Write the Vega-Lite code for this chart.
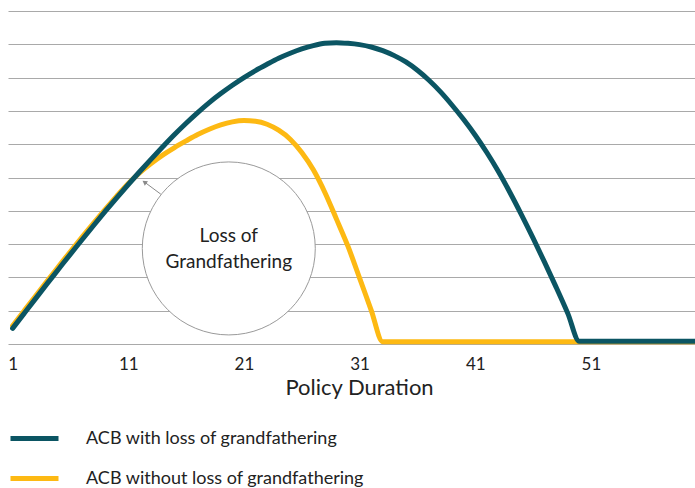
{
  "$schema": "https://vega.github.io/schema/vega-lite/v6.json",
  "width": 687,
  "height": 333,
  "autosize": {"type": "none"},
  "padding": {"left": 8, "top": 11, "right": 0, "bottom": 144},
  "background": "white",
  "config": {
    "view": {"stroke": null},
    "font": "Lato",
    "axisY": {"labels": false, "domain": false, "ticks": false, "title": null, "grid": true, "gridColor": "#a9a9a9", "gridWidth": 1.2, "tickCount": 12, "values": [0,1,2,3,4,5,6,7,8,9,10]}
  },
  "datasets": {
    "acb": [
      {"d":1,"ACB with loss of grandfathering":0.47,"ACB without loss of grandfathering":0.55},
      {"d":2,"ACB with loss of grandfathering":0.92,"ACB without loss of grandfathering":1.0},
      {"d":3,"ACB with loss of grandfathering":1.37,"ACB without loss of grandfathering":1.45},
      {"d":4,"ACB with loss of grandfathering":1.82,"ACB without loss of grandfathering":1.9},
      {"d":5,"ACB with loss of grandfathering":2.26,"ACB without loss of grandfathering":2.34},
      {"d":6,"ACB with loss of grandfathering":2.7,"ACB without loss of grandfathering":2.78},
      {"d":7,"ACB with loss of grandfathering":3.13,"ACB without loss of grandfathering":3.21},
      {"d":8,"ACB with loss of grandfathering":3.56,"ACB without loss of grandfathering":3.63},
      {"d":9,"ACB with loss of grandfathering":3.98,"ACB without loss of grandfathering":4.04},
      {"d":10,"ACB with loss of grandfathering":4.39,"ACB without loss of grandfathering":4.44},
      {"d":11,"ACB with loss of grandfathering":4.79,"ACB without loss of grandfathering":4.82},
      {"d":12,"ACB with loss of grandfathering":5.18,"ACB without loss of grandfathering":5.15},
      {"d":13,"ACB with loss of grandfathering":5.56,"ACB without loss of grandfathering":5.43},
      {"d":14,"ACB with loss of grandfathering":5.93,"ACB without loss of grandfathering":5.68},
      {"d":15,"ACB with loss of grandfathering":6.29,"ACB without loss of grandfathering":5.9},
      {"d":16,"ACB with loss of grandfathering":6.63,"ACB without loss of grandfathering":6.1},
      {"d":17,"ACB with loss of grandfathering":6.95,"ACB without loss of grandfathering":6.29},
      {"d":18,"ACB with loss of grandfathering":7.25,"ACB without loss of grandfathering":6.45},
      {"d":19,"ACB with loss of grandfathering":7.52,"ACB without loss of grandfathering":6.58},
      {"d":20,"ACB with loss of grandfathering":7.77,"ACB without loss of grandfathering":6.67},
      {"d":21,"ACB with loss of grandfathering":8.0,"ACB without loss of grandfathering":6.71},
      {"d":22,"ACB with loss of grandfathering":8.21,"ACB without loss of grandfathering":6.69},
      {"d":23,"ACB with loss of grandfathering":8.4,"ACB without loss of grandfathering":6.6},
      {"d":24,"ACB with loss of grandfathering":8.58,"ACB without loss of grandfathering":6.42},
      {"d":25,"ACB with loss of grandfathering":8.73,"ACB without loss of grandfathering":6.15},
      {"d":26,"ACB with loss of grandfathering":8.86,"ACB without loss of grandfathering":5.75},
      {"d":27,"ACB with loss of grandfathering":8.96,"ACB without loss of grandfathering":5.23},
      {"d":28,"ACB with loss of grandfathering":9.03,"ACB without loss of grandfathering":4.55},
      {"d":29,"ACB with loss of grandfathering":9.05,"ACB without loss of grandfathering":3.75},
      {"d":30,"ACB with loss of grandfathering":9.03,"ACB without loss of grandfathering":2.93},
      {"d":31,"ACB with loss of grandfathering":8.99,"ACB without loss of grandfathering":1.98},
      {"d":32,"ACB with loss of grandfathering":8.92,"ACB without loss of grandfathering":1.02},
      {"d":33,"ACB with loss of grandfathering":8.81,"ACB without loss of grandfathering":0.07},
      {"d":34,"ACB with loss of grandfathering":8.66,"ACB without loss of grandfathering":0.07},
      {"d":35,"ACB with loss of grandfathering":8.47,"ACB without loss of grandfathering":0.07},
      {"d":36,"ACB with loss of grandfathering":8.22,"ACB without loss of grandfathering":0.07},
      {"d":37,"ACB with loss of grandfathering":7.92,"ACB without loss of grandfathering":0.07},
      {"d":38,"ACB with loss of grandfathering":7.57,"ACB without loss of grandfathering":0.07},
      {"d":39,"ACB with loss of grandfathering":7.17,"ACB without loss of grandfathering":0.07},
      {"d":40,"ACB with loss of grandfathering":6.74,"ACB without loss of grandfathering":0.07},
      {"d":41,"ACB with loss of grandfathering":6.27,"ACB without loss of grandfathering":0.07},
      {"d":42,"ACB with loss of grandfathering":5.75,"ACB without loss of grandfathering":0.07},
      {"d":43,"ACB with loss of grandfathering":5.18,"ACB without loss of grandfathering":0.07},
      {"d":44,"ACB with loss of grandfathering":4.55,"ACB without loss of grandfathering":0.07},
      {"d":45,"ACB with loss of grandfathering":3.88,"ACB without loss of grandfathering":0.07},
      {"d":46,"ACB with loss of grandfathering":3.18,"ACB without loss of grandfathering":0.07},
      {"d":47,"ACB with loss of grandfathering":2.45,"ACB without loss of grandfathering":0.07},
      {"d":48,"ACB with loss of grandfathering":1.7,"ACB without loss of grandfathering":0.07},
      {"d":49,"ACB with loss of grandfathering":0.92,"ACB without loss of grandfathering":0.07},
      {"d":50,"ACB with loss of grandfathering":0.08,"ACB without loss of grandfathering":0.07},
      {"d":51,"ACB with loss of grandfathering":0.08,"ACB without loss of grandfathering":0.07},
      {"d":52,"ACB with loss of grandfathering":0.08,"ACB without loss of grandfathering":0.07},
      {"d":53,"ACB with loss of grandfathering":0.08,"ACB without loss of grandfathering":0.07},
      {"d":54,"ACB with loss of grandfathering":0.08,"ACB without loss of grandfathering":0.07},
      {"d":55,"ACB with loss of grandfathering":0.08,"ACB without loss of grandfathering":0.07},
      {"d":56,"ACB with loss of grandfathering":0.08,"ACB without loss of grandfathering":0.07},
      {"d":57,"ACB with loss of grandfathering":0.08,"ACB without loss of grandfathering":0.07},
      {"d":58,"ACB with loss of grandfathering":0.08,"ACB without loss of grandfathering":0.07},
      {"d":59,"ACB with loss of grandfathering":0.08,"ACB without loss of grandfathering":0.07},
      {"d":60,"ACB with loss of grandfathering":0.08,"ACB without loss of grandfathering":0.07}
    ],
    "bubble": [{"x": 19.69, "y": 2.87, "label": ["Loss of", "Grandfathering"]}],
    "arrow": [{"x": 13.81, "y": 4.5, "x2": 12.45, "y2": 4.85, "hx": 12.4, "hy": 4.86}]
  },
  "layer": [
    {
      "data": {"name": "bubble"},
      "mark": {"type": "point", "shape": "circle", "size": 29929, "filled": true, "fill": "white", "stroke": "#9a9a9a", "strokeWidth": 1, "opacity": 1},
      "encoding": {
        "x": {"field": "x", "type": "quantitative", "scale": {"domain": [0.6, 60], "nice": false, "zero": false},
          "axis": {"values": [1, 11, 21, 31, 41, 51], "domain": false, "ticks": false, "grid": false, "labelFontSize": 17, "labelColor": "#222222", "labelPadding": 12, "labelFont": "Lato", "title": "Policy Duration", "titleFontSize": 22, "titleFontWeight": "normal", "titleColor": "#222222", "titleFont": "Lato", "titlePadding": 5, "titleX": 351}},
        "y": {"field": "y", "type": "quantitative", "scale": {"domain": [0, 10], "nice": false},
          "axis": {"values": [0,1,2,3,4,5,6,7,8,9,10], "tickCount": 12}}
      }
    },
    {
      "data": {"name": "bubble"},
      "mark": {"type": "text", "fontSize": 19, "font": "Lato", "color": "#222222", "lineHeight": 26, "align": "center", "baseline": "middle", "dy": -12},
      "encoding": {
        "x": {"field": "x", "type": "quantitative"},
        "y": {"field": "y", "type": "quantitative"},
        "text": {"field": "label"}
      }
    },
    {
      "data": {"name": "arrow"},
      "mark": {"type": "rule", "color": "#8a8a8a", "strokeWidth": 1},
      "encoding": {
        "x": {"field": "x", "type": "quantitative"},
        "y": {"field": "y", "type": "quantitative"},
        "x2": {"field": "x2"},
        "y2": {"field": "y2"}
      }
    },
    {
      "data": {"name": "arrow"},
      "mark": {"type": "point", "shape": "triangle-up", "size": 30, "filled": true, "color": "#8a8a8a", "angle": 306, "opacity": 1},
      "encoding": {
        "x": {"field": "hx", "type": "quantitative"},
        "y": {"field": "hy", "type": "quantitative"}
      }
    },
    {
      "data": {"name": "acb"},
      "transform": [
        {"fold": ["ACB with loss of grandfathering", "ACB without loss of grandfathering"], "as": ["series", "value"]},
        {"filter": "datum.series === 'ACB without loss of grandfathering'"}
      ],
      "mark": {"type": "line", "strokeWidth": 5, "interpolate": "monotone", "strokeCap": "round", "strokeJoin": "round"},
      "encoding": {
        "x": {"field": "d", "type": "quantitative"},
        "y": {"field": "value", "type": "quantitative"},
        "color": {"field": "series", "type": "nominal",
          "scale": {"domain": ["ACB with loss of grandfathering", "ACB without loss of grandfathering"], "range": ["#0b5563", "#fdb913"]},
          "legend": {"orient": "none", "legendX": 0, "legendY": 401, "title": null, "direction": "vertical", "symbolType": "stroke", "symbolSize": 2304, "symbolStrokeWidth": 5, "labelFontSize": 18, "labelFont": "Lato", "labelColor": "#222222", "labelOffset": 25, "rowPadding": 3, "labelLimit": 400}}
      }
    },
    {
      "data": {"name": "acb"},
      "transform": [
        {"fold": ["ACB with loss of grandfathering", "ACB without loss of grandfathering"], "as": ["series", "value"]},
        {"filter": "datum.series === 'ACB with loss of grandfathering'"}
      ],
      "mark": {"type": "line", "strokeWidth": 5, "interpolate": "monotone", "strokeCap": "round", "strokeJoin": "round"},
      "encoding": {
        "x": {"field": "d", "type": "quantitative"},
        "y": {"field": "value", "type": "quantitative"},
        "color": {"field": "series", "type": "nominal"}
      }
    }
  ]
}
